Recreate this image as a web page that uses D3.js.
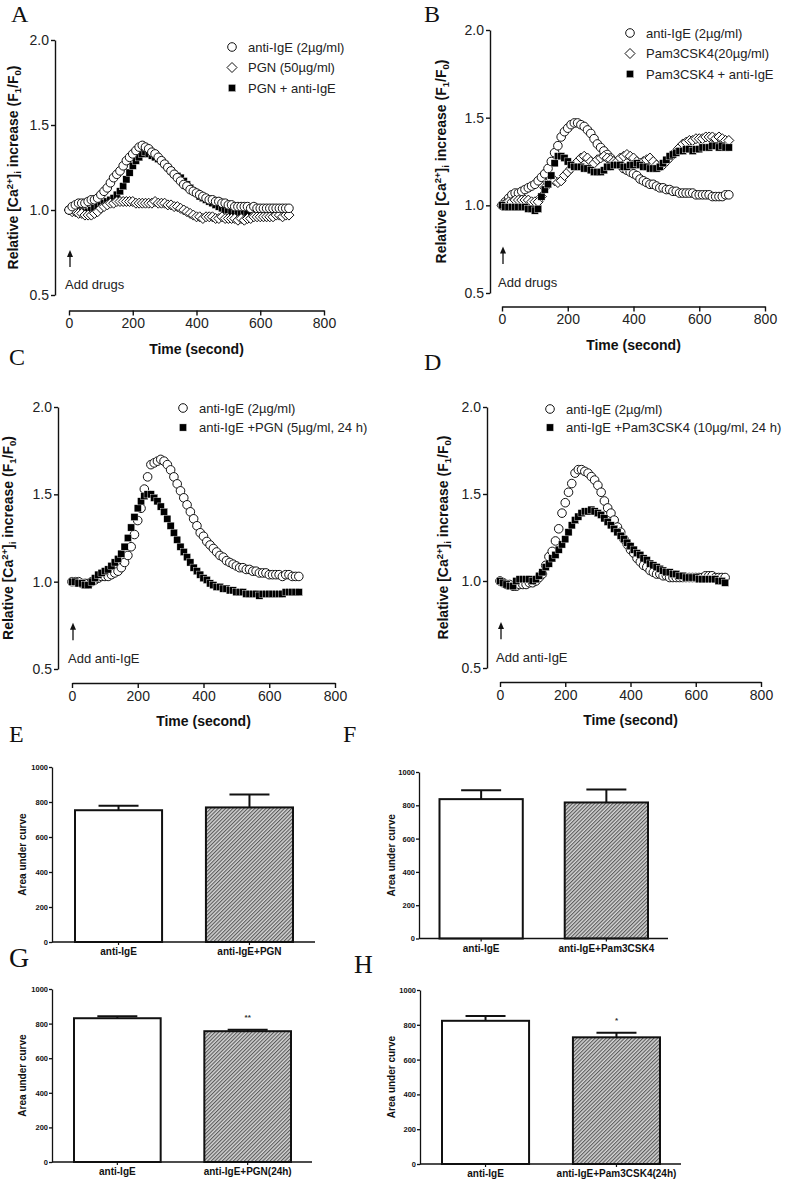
<!DOCTYPE html>
<html><head><meta charset="utf-8">
<script src="https://cdn.jsdelivr.net/npm/d3@7"></script>
<style>
body{margin:0;background:#fff}
svg{display:block}
text{font-family:"Liberation Sans",Arial,sans-serif}
</style>
</head><body>
<svg id="c" width="786" height="1185"></svg>
<script>
// ---------------- DATA ----------------
const timeSec = [0,10,20,30,40,50,60,70,80,90,100,110,120,130,140,150,160,170,180,190,200,210,220,230,240,250,260,270,280,290,300,310,320,330,340,350,360,370,380,390,400,410,420,430,440,450,460,470,480,490,500,510,520,530,540,550,560,570,580,590,600,610,620,630,640,650,660,670,680,690];
const xTicks = [0,200,400,600,800];
const yTicks = [0.5,1.0,1.5,2.0];
const barTicks = [0,200,400,600,800,1000];

// Panel A
const A_antiIgE = [1.00,1.02,1.03,1.04,1.04,1.04,1.05,1.06,1.06,1.07, 1.09,1.11,1.13,1.16,1.19,1.21,1.23,1.26,1.29,1.31, 1.33,1.35,1.37,1.38,1.37,1.36,1.34,1.33,1.31,1.29, 1.27,1.25,1.23,1.21,1.19,1.17,1.15,1.14,1.12,1.11, 1.10,1.09,1.08,1.07,1.06,1.06,1.05,1.05,1.04,1.04, 1.03,1.03,1.02,1.02,1.02,1.02,1.02,1.01,1.02,1.01, 1.01,1.01,1.01,1.01,1.01,1.01,1.01,1.01,1.01,1.01];
const A_PGN = [1.00,0.99,0.99,0.98,0.98,0.97,0.97,0.97,0.98,0.99, 1.01,1.02,1.03,1.04,1.04,1.05,1.05,1.05,1.05,1.05, 1.05,1.04,1.04,1.04,1.04,1.04,1.04,1.05,1.04,1.04, 1.04,1.03,1.03,1.02,1.02,1.01,1.00,0.99,0.98,0.97, 0.96,0.96,0.95,0.96,0.96,0.96,0.95,0.95,0.96,0.95, 0.95,0.95,0.95,0.94,0.95,0.94,0.95,0.95,0.96,0.96, 0.96,0.96,0.96,0.96,0.96,0.97,0.97,0.96,0.97,0.97];
const A_PGNantiIgE = [1.00,1.00,1.00,1.00,0.99,0.99,0.99,1.00,1.01,1.02, 1.03,1.04,1.05,1.06,1.07,1.09,1.11,1.14,1.18,1.22, 1.26,1.29,1.31,1.33,1.34,1.33,1.32,1.31,1.30,1.29, 1.27,1.25,1.23,1.21,1.20,1.19,1.17,1.15,1.13,1.11, 1.10,1.08,1.07,1.06,1.05,1.04,1.03,1.02,1.01,1.00, 1.00,0.99,0.99,0.99,0.99,0.99,0.99];

// Panel B
const B_antiIgE = [1.00,1.02,1.04,1.06,1.07,1.07,1.08,1.09,1.10,1.11, 1.12,1.14,1.16,1.18,1.21,1.25,1.30,1.34,1.39,1.42, 1.44,1.46,1.47,1.47,1.46,1.45,1.43,1.41,1.38,1.35, 1.33,1.31,1.29,1.27,1.25,1.24,1.23,1.21,1.20,1.19, 1.18,1.17,1.15,1.14,1.13,1.12,1.12,1.11,1.10,1.10, 1.09,1.09,1.08,1.08,1.07,1.07,1.07,1.07,1.07,1.06, 1.06,1.06,1.06,1.06,1.05,1.05,1.05,1.05,1.06,1.06];
const B_Pam = [1.00,1.01,1.02,1.02,1.03,1.03,1.03,1.03,1.03,1.02, 1.02,1.02,1.05,1.10,1.13,1.15,1.14,1.13,1.14,1.17, 1.19,1.21,1.23,1.25,1.27,1.28,1.27,1.25,1.24,1.26, 1.27,1.28,1.27,1.26,1.25,1.25,1.27,1.28,1.29,1.28, 1.27,1.25,1.24,1.25,1.26,1.27,1.25,1.23,1.22,1.23, 1.25,1.27,1.29,1.31,1.33,1.35,1.36,1.37,1.37,1.38, 1.38,1.38,1.39,1.39,1.39,1.38,1.39,1.38,1.37,1.37];
const B_PamIgE = [1.00,0.99,0.99,0.99,0.99,0.99,0.99,0.99,0.98,0.98, 0.97,0.98,1.05,1.09,1.12,1.17,1.24,1.28,1.28,1.27, 1.25,1.23,1.22,1.22,1.22,1.21,1.21,1.20,1.19,1.19, 1.19,1.20,1.22,1.22,1.23,1.23,1.23,1.22,1.22,1.23, 1.23,1.24,1.23,1.22,1.22,1.21,1.21,1.21,1.22,1.24, 1.26,1.28,1.29,1.30,1.31,1.31,1.32,1.32,1.31,1.32, 1.32,1.33,1.33,1.33,1.34,1.34,1.33,1.34,1.33,1.33];

// Panel C
const C_antiIgE = [1.00,1.00,1.00,0.99,0.99,0.99,1.00,1.01,1.02,1.03, 1.03,1.03,1.04,1.05,1.06,1.08,1.11,1.15,1.20,1.27, 1.35,1.42,1.53,1.60,1.67,1.68,1.69,1.70,1.69,1.67, 1.64,1.60,1.56,1.52,1.48,1.44,1.40,1.36,1.32,1.28, 1.26,1.23,1.21,1.19,1.17,1.15,1.14,1.12,1.11,1.10, 1.09,1.08,1.08,1.07,1.07,1.06,1.06,1.05,1.05,1.05, 1.04,1.04,1.04,1.04,1.03,1.04,1.04,1.03,1.03,1.03];
const C_IgEPGN = [1.00,1.00,0.99,0.99,0.98,0.98,1.00,1.02,1.04,1.05, 1.06,1.07,1.09,1.11,1.13,1.16,1.20,1.25,1.31,1.37, 1.42,1.46,1.49,1.50,1.50,1.48,1.46,1.43,1.40,1.36, 1.32,1.28,1.24,1.20,1.17,1.14,1.11,1.08,1.06,1.04, 1.02,1.01,0.99,0.98,0.97,0.97,0.96,0.96,0.95,0.95, 0.94,0.94,0.94,0.93,0.93,0.93,0.93,0.92,0.93,0.93, 0.93,0.93,0.93,0.93,0.93,0.94,0.94,0.94,0.94,0.94];

// Panel D
const D_antiIgE = [1.00,0.99,0.98,0.98,0.97,0.97,0.98,0.98,0.98,0.99, 0.99,1.00,1.02,1.04,1.09,1.14,1.17,1.23,1.30,1.39, 1.45,1.51,1.56,1.62,1.64,1.64,1.63,1.62,1.60,1.58, 1.55,1.51,1.46,1.42,1.39,1.35,1.31,1.28,1.24,1.21, 1.18,1.16,1.13,1.11,1.09,1.08,1.06,1.05,1.04,1.04, 1.03,1.03,1.02,1.02,1.02,1.02,1.02,1.02,1.02,1.02, 1.02,1.02,1.02,1.03,1.03,1.03,1.02,1.02,1.02,1.02];
const D_IgEPam = [1.00,0.99,0.98,0.97,0.97,1.00,1.01,1.01,1.01,1.01, 1.00,1.01,1.03,1.05,1.08,1.10,1.13,1.15,1.18,1.21, 1.24,1.28,1.32,1.35,1.37,1.39,1.40,1.40,1.41,1.40, 1.39,1.38,1.36,1.34,1.32,1.30,1.28,1.26,1.24,1.22, 1.20,1.18,1.16,1.15,1.13,1.12,1.10,1.09,1.08,1.07, 1.06,1.05,1.05,1.04,1.04,1.03,1.03,1.02,1.02,1.02, 1.02,1.01,1.01,1.01,1.01,1.01,1.01,1.00,1.00,0.99];

// Bar panels (mean, SEM)
const barCatsE = ["anti-IgE","anti-IgE+PGN"];
const barMeanE = [753, 769];
const barSemE = [25, 74];
const barCatsF = ["anti-IgE","anti-IgE+Pam3CSK4"];
const barMeanF = [837, 817];
const barSemF = [54, 78];
const barCatsG = ["anti-IgE","anti-IgE+PGN(24h)"];
const barMeanG = [831, 756];
const barSemG = [12, 9];
const barSigG = ["", "**"];
const barCatsH = ["anti-IgE","anti-IgE+Pam3CSK4(24h)"];
const barMeanH = [823, 728];
const barSemH = [27, 26];
const barSigH = ["", "*"];

// ---------------- DRAW ----------------
const svg = d3.select("#c");
const defs = svg.append("defs");
const pat = defs.append("pattern").attr("id","hatch").attr("patternUnits","userSpaceOnUse")
  .attr("width",2.6).attr("height",2.6).attr("patternTransform","rotate(45)");
pat.append("rect").attr("width",2.6).attr("height",2.6).attr("fill","#d4d4d4");
pat.append("rect").attr("x",0).attr("y",0).attr("width",1.1).attr("height",2.6).attr("fill","#5a5a5a");

const FONT = '"Liberation Sans", Arial, sans-serif';
const SERIF = '"Liberation Serif", "Times New Roman", serif';

function panelLetter(txt, x, y, size) {
  svg.append("text").attr("x",x).attr("y",y).text(txt)
    .style("font-family",SERIF).attr("font-size",size).attr("fill","#111");
}

function drawSymbol(g, shape, cx, cy) {
  if (shape === "circle") {
    g.append("circle").attr("cx",cx).attr("cy",cy).attr("r",4.3)
      .attr("fill","#fff").attr("stroke","#111").attr("stroke-width",1);
  } else if (shape === "square") {
    g.append("rect").attr("x",cx-3.6).attr("y",cy-3.6).attr("width",7.2).attr("height",7.2)
      .attr("fill","#000").attr("stroke","#fff").attr("stroke-width",0.4);
  } else {
    g.append("path").attr("d",`M${cx},${cy-5} L${cx+5},${cy} L${cx},${cy+5} L${cx-5},${cy} Z`)
      .attr("fill","#fff").attr("stroke","#111").attr("stroke-width",1);
  }
}

function yLabel(cx, cy) {
  const t = svg.append("text")
    .attr("transform",`translate(${cx + 5},${cy}) rotate(-90)`)
    .attr("text-anchor","middle").attr("font-size",14).attr("font-weight","bold").attr("fill","#111");
  t.append("tspan").text("Relative [Ca");
  t.append("tspan").attr("dy",-5).attr("font-size",9.5).text("2+");
  t.append("tspan").attr("dy",5).text("]");
  t.append("tspan").attr("dy",3).attr("font-size",9.5).text("i");
  t.append("tspan").attr("dy",-3).text(" increase (F");
  t.append("tspan").attr("dy",3).attr("font-size",9.5).text("1");
  t.append("tspan").attr("dy",-3).text("/F");
  t.append("tspan").attr("dy",3).attr("font-size",9.5).text("0");
  t.append("tspan").attr("dy",-3).text(")");
}

function tracePanel(cfg) {
  const x = d3.scaleLinear().domain([0,800]).range([cfg.x0, cfg.x1]);
  const y = d3.scaleLinear().domain([0.5,2.0]).range([cfg.yb, cfg.yt]);
  const g = svg.append("g");

  const ya = g.append("g").attr("transform",`translate(${cfg.yx},0)`)
    .call(d3.axisLeft(y).tickValues(yTicks).tickFormat(d3.format(".1f")).tickSize(4).tickSizeOuter(0).tickPadding(2));
  const xa = g.append("g").attr("transform",`translate(0,${cfg.xy})`)
    .call(d3.axisBottom(x).tickValues(xTicks).tickSize(5).tickSizeOuter(0).tickPadding(3));
  [ya, xa].forEach(a => {
    a.selectAll("path,line").attr("stroke","#111").attr("stroke-width",1.4);
    a.selectAll("text").attr("font-size",14).attr("fill","#222").style("font-family",FONT);
  });

  g.append("text").attr("x",(cfg.x0+cfg.x1)/2).attr("y",cfg.xy+43)
    .attr("text-anchor","middle").attr("font-size",14).attr("font-weight","bold").attr("fill","#111")
    .text("Time (second)");

  yLabel(cfg.labX, (cfg.yb+cfg.yt)/2);

  // arrow annotation
  const ax = x(0) + 1;
  const tipY = y(0.765), botY = y(0.665);
  g.append("line").attr("x1",ax).attr("x2",ax).attr("y1",botY).attr("y2",tipY+5)
    .attr("stroke","#111").attr("stroke-width",1.3);
  g.append("path").attr("d",`M${ax},${tipY} L${ax+3},${tipY+7} L${ax-3},${tipY+7} Z`).attr("fill","#111");
  g.append("text").attr("x",x(0)-4).attr("y",y(0.56)).attr("dy","0.35em")
    .attr("font-size",13).attr("fill","#222").text(cfg.addText);

  // series
  cfg.series.forEach(s => {
    const sg = g.append("g");
    s.values.forEach((v,i) => drawSymbol(sg, s.shape, x(timeSec[i]), y(v)));
  });

  // legend
  cfg.legend.forEach((L,i) => {
    const ly = cfg.legY + i*cfg.legGap;
    drawSymbol(g, L.shape, cfg.legX, ly);
    g.append("text").attr("x",cfg.legX+16).attr("y",ly).attr("dy","0.35em")
      .attr("font-size",13).attr("fill","#222").text(L.label);
  });
}

// A
tracePanel({x0:69, x1:324, yb:295, yt:40, yx:55, xy:310.5, labX:13,
  addText:"Add drugs",
  series:[{values:A_PGNantiIgE, shape:"square"},{values:A_PGN, shape:"diamond"},{values:A_antiIgE, shape:"circle"}],
  legX:232, legY:47, legGap:20.5,
  legend:[{shape:"circle",label:"anti-IgE (2\u00b5g/ml)"},{shape:"diamond",label:"PGN (50\u00b5g/ml)"},{shape:"square",label:"PGN + anti-IgE"}]});
// B
tracePanel({x0:502, x1:765, yb:293, yt:30, yx:490, xy:306.5, labX:441,
  addText:"Add drugs",
  series:[{values:B_antiIgE, shape:"circle"},{values:B_Pam, shape:"diamond"},{values:B_PamIgE, shape:"square"}],
  legX:630, legY:33, legGap:20.5,
  legend:[{shape:"circle",label:"anti-IgE (2\u00b5g/ml)"},{shape:"diamond",label:"Pam3CSK4(20\u00b5g/ml)"},{shape:"square",label:"Pam3CSK4 + anti-IgE"}]});
// C
tracePanel({x0:72, x1:335, yb:669, yt:407, yx:58, xy:683, labX:8,
  addText:"Add anti-IgE",
  series:[{values:C_antiIgE, shape:"circle"},{values:C_IgEPGN, shape:"square"}],
  legX:183, legY:408, legGap:19.5,
  legend:[{shape:"circle",label:"anti-IgE (2\u00b5g/ml)"},{shape:"square",label:"anti-IgE +PGN (5\u00b5g/ml, 24 h)"}]});
// D
tracePanel({x0:500, x1:761, yb:668, yt:407, yx:487, xy:682, labX:443,
  addText:"Add anti-IgE",
  series:[{values:D_antiIgE, shape:"circle"},{values:D_IgEPam, shape:"square"}],
  legX:550, legY:409, legGap:18.5,
  legend:[{shape:"circle",label:"anti-IgE (2\u00b5g/ml)"},{shape:"square",label:"anti-IgE +Pam3CSK4 (10\u00b5g/ml, 24 h)"}]});

function barPanel(cfg) {
  const x = d3.scaleBand().domain(cfg.cats).range([cfg.b0, cfg.b1]).paddingInner(0.335);
  const y = d3.scaleLinear().domain([0,1000]).range([cfg.y0, cfg.y1]);
  const g = svg.append("g");

  cfg.cats.forEach((c,i) => {
    g.append("rect").attr("x",x(c)).attr("y",y(cfg.mean[i])).attr("width",x.bandwidth())
      .attr("height",y(0)-y(cfg.mean[i]))
      .attr("fill", i === 0 ? "#fff" : "url(#hatch)").attr("stroke","#111").attr("stroke-width",2);
    const cx = x(c) + x.bandwidth()/2;
    const top = y(cfg.mean[i] + cfg.sem[i]);
    g.append("line").attr("x1",cx).attr("x2",cx).attr("y1",y(cfg.mean[i])).attr("y2",top)
      .attr("stroke","#111").attr("stroke-width",2);
    g.append("line").attr("x1",cx-20).attr("x2",cx+20).attr("y1",top).attr("y2",top)
      .attr("stroke","#111").attr("stroke-width",2);
    if (cfg.sig && cfg.sig[i]) {
      g.append("text").attr("x",cx).attr("y",top-10).attr("text-anchor","middle")
        .attr("font-size",8).attr("font-weight","bold").attr("fill","#333").text(cfg.sig[i]);
    }
  });

  const ya = g.append("g").attr("transform",`translate(${cfg.yx},0)`)
    .call(d3.axisLeft(y).tickValues(barTicks).tickFormat(d3.format("d")).tickSize(3).tickSizeOuter(0).tickPadding(1));
  ya.selectAll("path,line").attr("stroke","#111").attr("stroke-width",1.3);
  ya.selectAll("text").attr("font-size",7.5).attr("font-weight","bold").attr("fill","#111").style("font-family",FONT);

  const xa = g.append("g").attr("transform",`translate(0,${cfg.y0})`)
    .call(d3.axisBottom(x).tickSize(3).tickSizeOuter(0).tickPadding(3));
  xa.select(".domain").remove();
  xa.append("line").attr("x1",cfg.yx).attr("x2",cfg.xEnd).attr("stroke","#111").attr("stroke-width",1.3);
  xa.selectAll(".tick line").attr("stroke","#111").attr("stroke-width",1.2);
  xa.selectAll("text").attr("font-size",10).attr("font-weight","bold").attr("fill","#111").style("font-family",FONT);

  g.append("text").attr("transform",`translate(${cfg.labX+3.5},${(cfg.y0+cfg.y1)/2}) rotate(-90)`)
    .attr("text-anchor","middle").attr("font-size",10).attr("font-weight","bold").attr("fill","#111")
    .text("Area under curve");
}

barPanel({cats:barCatsE, mean:barMeanE, sem:barSemE, b0:75, b1:293, y0:942, y1:767, yx:52, xEnd:315, labX:22});
barPanel({cats:barCatsF, mean:barMeanF, sem:barSemF, b0:439.5, b1:648, y0:938.5, y1:772, yx:419, xEnd:668, labX:391});
barPanel({cats:barCatsG, mean:barMeanG, sem:barSemG, sig:barSigG, b0:74, b1:291, y0:1162, y1:989, yx:52, xEnd:312, labX:22});
barPanel({cats:barCatsH, mean:barMeanH, sem:barSemH, sig:barSigH, b0:442, b1:660, y0:1164, y1:990, yx:420, xEnd:681, labX:391});

panelLetter("A", 11, 22, 24);
panelLetter("B", 424, 22, 24);
panelLetter("C", 9, 365, 24);
panelLetter("D", 424, 370, 24);
panelLetter("E", 9, 742, 24);
panelLetter("F", 343, 742, 24);
panelLetter("G", 9, 967, 28);
panelLetter("H", 354, 973, 26);
</script>
</body></html>
